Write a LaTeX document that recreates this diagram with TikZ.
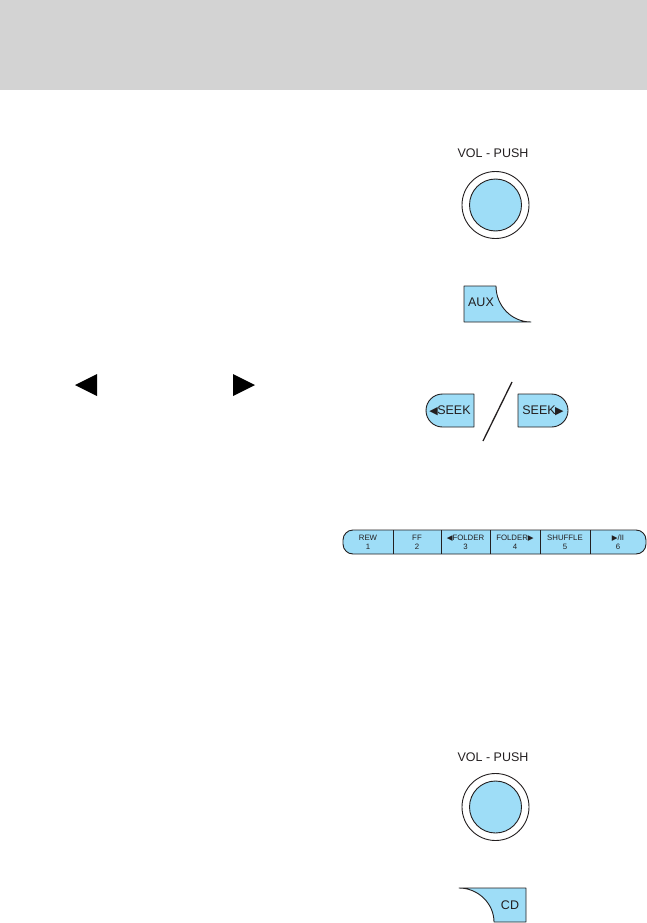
\documentclass[tikz,border=0pt]{standalone}
\usepackage{fontspec}
\setmainfont{Liberation Sans}
\newfontfamily\symf{DejaVu Sans}
\definecolor{hdrgray}{RGB}{211,211,211}
\definecolor{lblue}{RGB}{158,221,247}
\definecolor{ink}{RGB}{35,31,32}
\begin{document}
\begin{tikzpicture}[x=1pt,y=-1pt,
  btn/.style={fill=lblue,draw=ink,line width=0.9pt,line join=round},
  lbl/.style={text=ink,font=\fontsize{12.5}{13}\selectfont,inner sep=0pt},
  plbl/.style={text=ink,font=\fontsize{7.8}{9}\selectfont,inner sep=0pt,align=center},
  tri/.style={fill=black}]
\useasboundingbox (0,0) rectangle (647,923);
% header
\fill[hdrgray] (0,0) rectangle (647,90);
% top VOL - PUSH knob
\node[lbl] (vol1) at (493,153) {VOL - PUSH};
\draw[ink,line width=0.9pt] (495.5,205) circle (33.5);
\filldraw[btn] (495.5,205) circle (26);
% AUX
\filldraw[btn] (464,286) -- (496,286) .. controls (496,305.9) and (511.7,322) .. (531,322) -- (464,322) -- cycle;
\node[lbl] (aux) at (481,302) {AUX};
% arrows in text
\fill[tri] (75,385) -- (97,374) -- (97,396) -- cycle;
\fill[tri] (255,385) -- (233,374) -- (233,396) -- cycle;
% SEEK buttons
\filldraw[btn] (474,394) -- (442.5,394) .. controls (433.4,394) and (426,401.4) .. (426,410.5) .. controls (426,419.6) and (433.4,427) .. (442.5,427) -- (474,427) -- cycle;
\node[lbl] (seekl) at (450,411) {{\symf\fontsize{11}{12}\selectfont ◀}\kern-0.5pt SEEK};
\filldraw[btn] (518,394) -- (551.5,394) .. controls (560.6,394) and (568,401.4) .. (568,410.5) .. controls (568,419.6) and (560.6,427) .. (551.5,427) -- (518,427) -- cycle;
\node[lbl] (seekr) at (543,411) {SEEK\kern-0.5pt{\symf\fontsize{11}{12}\selectfont ▶}};
\coordinate (sa) at (512,382);
\coordinate (sb) at (483,441);
\draw[ink,line width=1.3pt] (sa) -- (sb);
% preset bar
\filldraw[btn,rounded corners=10pt] (343,530) rectangle (646,554);
\foreach \x in {393,441,490,540,590} \draw[ink,line width=0.9pt] (\x,530) -- (\x,554);
\node[plbl] (p1) at (368,542.5) {REW\\1};
\node[plbl] (p2) at (417,542.5) {FF\\2};
\node[plbl] (p3) at (465.5,542.5) {{\symf\fontsize{7.5}{8}\selectfont ◀}FOLDER\\3};
\node[plbl] (p4) at (515,542.5) {FOLDER{\symf\fontsize{7.5}{8}\selectfont ▶}\\4};
\node[plbl] (p5) at (565,542.5) {SHUFFLE\\5};
\node[plbl] (p6) at (618,542.5) {{\symf\fontsize{7.5}{8}\selectfont ▶}/II\\6};
% bottom VOL - PUSH knob
\node[lbl] (vol2) at (493,757) {VOL - PUSH};
\draw[ink,line width=0.9pt] (495.5,807) circle (33.5);
\filldraw[btn] (495.5,807) circle (26);
% CD
\filldraw[btn] (459,888) .. controls (478.3,888) and (494,903.7) .. (494,922) -- (526,922) -- (526,888) -- cycle;
\node[lbl] (cd) at (510,905) {CD};
\end{tikzpicture}
\end{document}
